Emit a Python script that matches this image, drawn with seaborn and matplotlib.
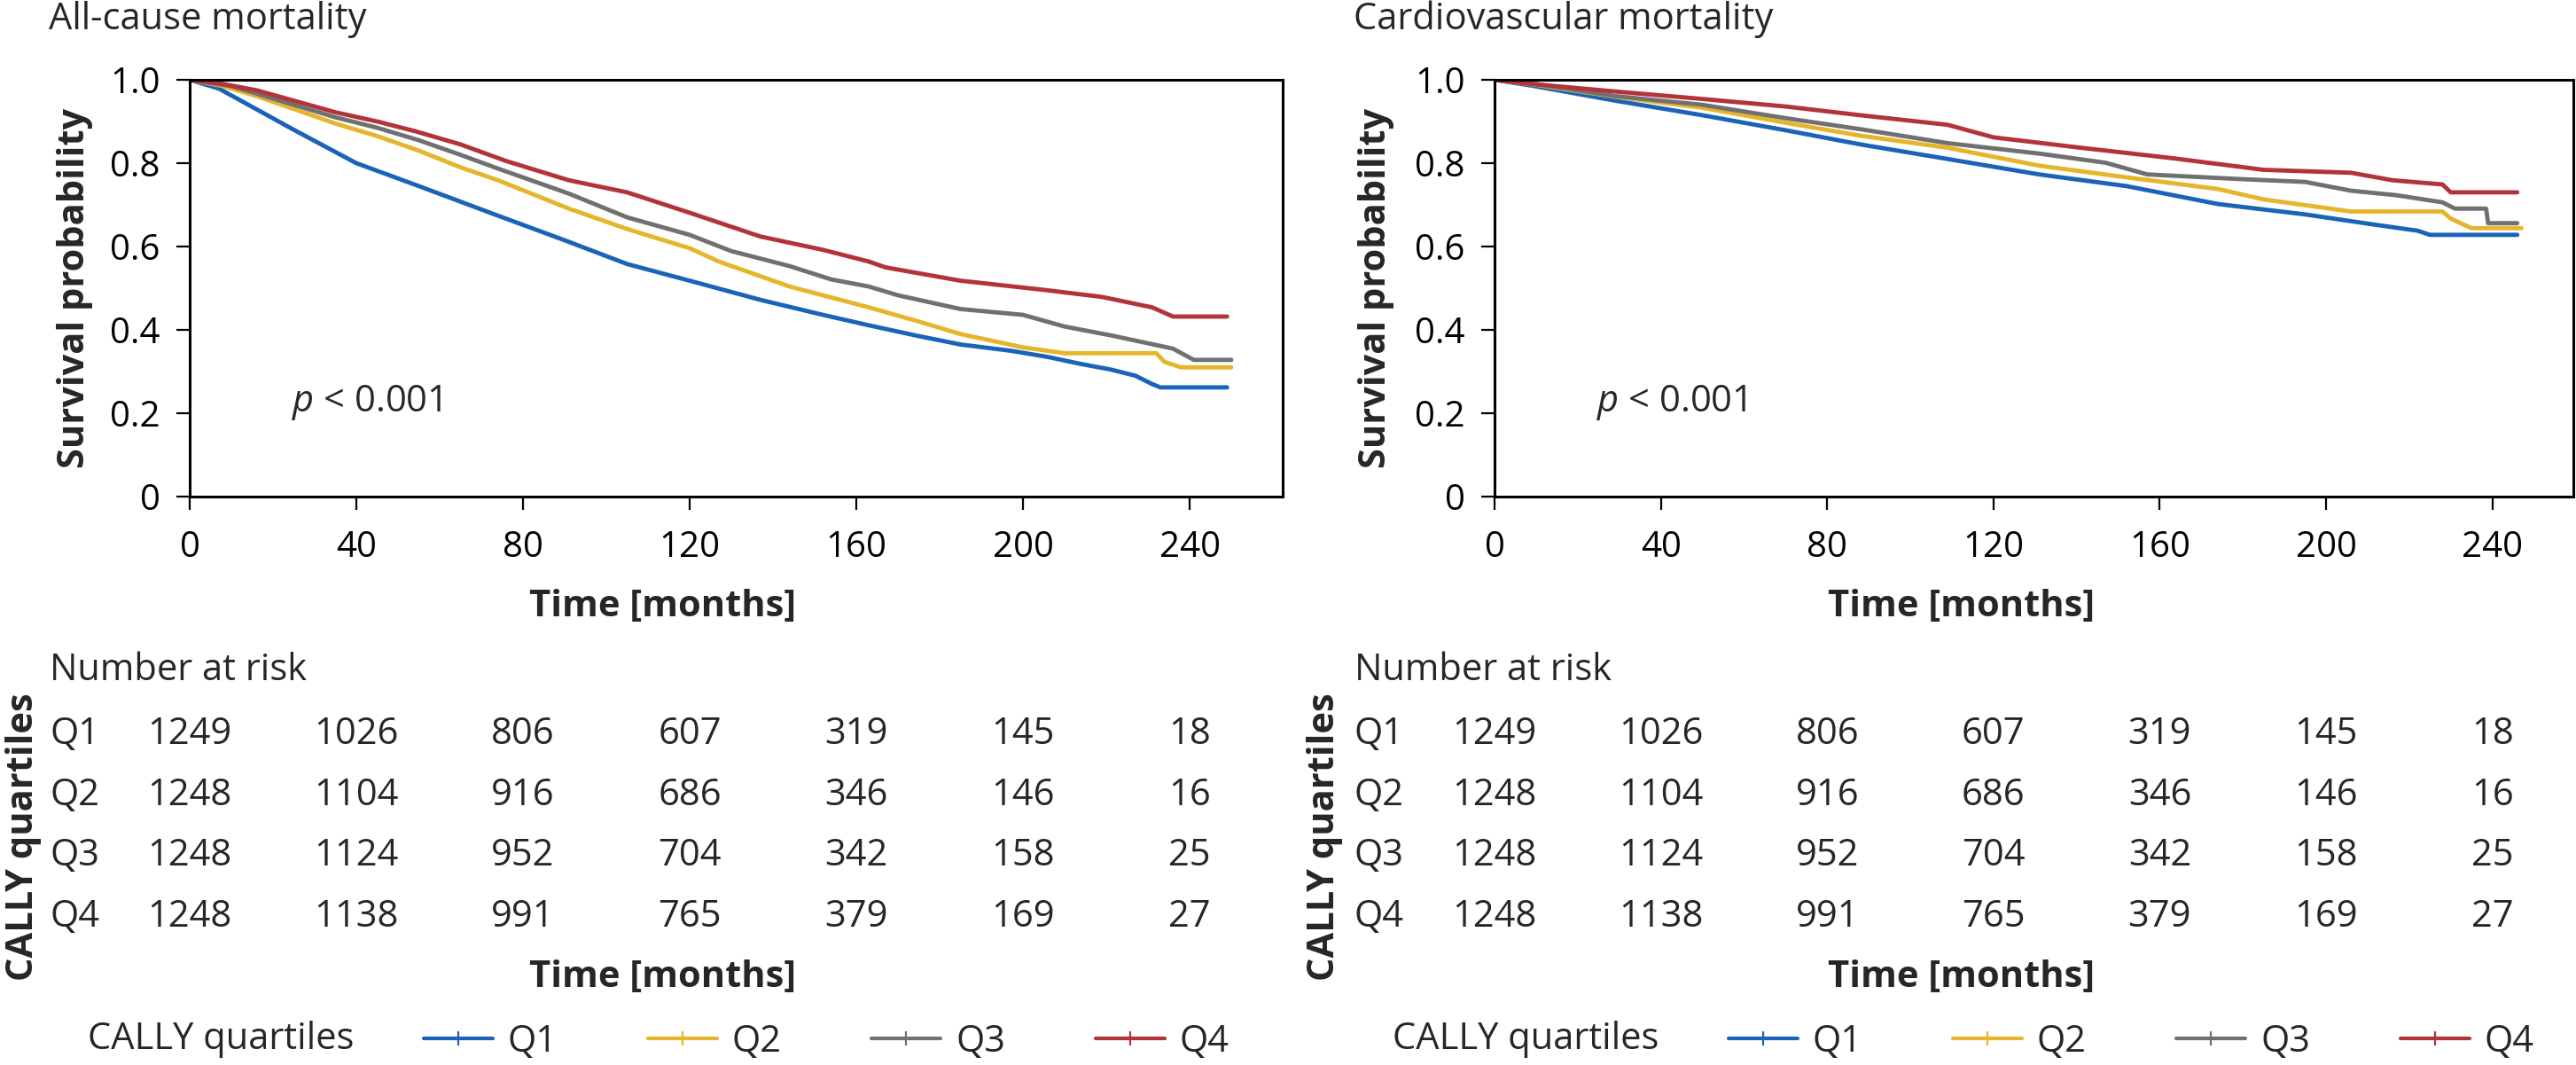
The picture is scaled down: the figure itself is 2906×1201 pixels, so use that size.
import numpy as np
import pandas as pd
import matplotlib
matplotlib.use("Agg")
import matplotlib.pyplot as plt
import seaborn as sns
from matplotlib.lines import Line2D

# ─────────────────────────────────────────────
# DATA
# ─────────────────────────────────────────────

GROUPS = ["Q1", "Q2", "Q3", "Q4"]
COLORS = ["#1B63B8", "#E5B52B", "#707070", "#B3333A"]

# All-cause mortality
ALL_Q1_T = [0, 7, 25, 40, 55, 74, 90, 105, 120, 137, 152, 163, 175, 185, 197, 206, 214, 221, 227, 231, 233, 249]
ALL_Q1_S = [1.0, 0.979, 0.88, 0.80, 0.745, 0.674, 0.615, 0.558, 0.518, 0.472, 0.436, 0.411, 0.385, 0.365, 0.35, 0.335, 0.318, 0.305, 0.29, 0.27, 0.262, 0.262]
ALL_Q2_T = [0, 8, 16, 25, 35, 45, 55, 65, 74, 91, 105, 120, 127, 144, 163, 175, 185, 200, 210, 232, 234, 238, 250]
ALL_Q2_S = [1.0, 0.985, 0.961, 0.93, 0.895, 0.865, 0.83, 0.79, 0.759, 0.691, 0.642, 0.596, 0.564, 0.504, 0.454, 0.42, 0.39, 0.358, 0.344, 0.344, 0.323, 0.31, 0.31]
ALL_Q3_T = [0, 10, 20, 35, 45, 55, 65, 74, 91, 105, 120, 130, 144, 154, 163, 170, 185, 200, 210, 221, 236, 241, 250]
ALL_Q3_S = [1.0, 0.985, 0.955, 0.91, 0.885, 0.855, 0.82, 0.787, 0.727, 0.67, 0.628, 0.589, 0.553, 0.521, 0.504, 0.483, 0.45, 0.436, 0.408, 0.387, 0.355, 0.328, 0.328]
ALL_Q4_T = [0, 8, 16, 25, 35, 45, 54, 65, 76, 91, 105, 120, 137, 152, 163, 167, 185, 205, 219, 231, 236, 249]
ALL_Q4_S = [1.0, 0.99, 0.975, 0.95, 0.922, 0.90, 0.877, 0.845, 0.805, 0.759, 0.73, 0.681, 0.624, 0.592, 0.564, 0.55, 0.518, 0.496, 0.479, 0.454, 0.432, 0.432]

# Cardiovascular mortality
CV_Q1_T = [0, 9, 29, 50, 70, 88, 109, 131, 152, 174, 195, 212, 222, 225, 246]
CV_Q1_S = [1.0, 0.986, 0.95, 0.915, 0.879, 0.845, 0.81, 0.773, 0.745, 0.702, 0.677, 0.652, 0.638, 0.628, 0.628]
CV_Q2_T = [0, 10, 30, 50, 70, 88, 109, 131, 152, 174, 185, 201, 206, 228, 230, 235, 247]
CV_Q2_S = [1.0, 0.988, 0.958, 0.933, 0.897, 0.866, 0.837, 0.794, 0.766, 0.738, 0.713, 0.691, 0.684, 0.684, 0.667, 0.644, 0.644]
CV_Q3_T = [0, 10, 29, 50, 70, 89, 109, 131, 147, 157, 179, 195, 206, 217, 228, 231, 238.5, 239, 246]
CV_Q3_S = [1.0, 0.99, 0.961, 0.94, 0.908, 0.88, 0.848, 0.823, 0.801, 0.773, 0.762, 0.755, 0.734, 0.723, 0.706, 0.691, 0.691, 0.656, 0.656]
CV_Q4_T = [0, 9, 29, 50, 70, 88, 109, 120, 141, 163, 185, 206, 216, 228, 230, 246]
CV_Q4_S = [1.0, 0.99, 0.972, 0.954, 0.936, 0.915, 0.892, 0.862, 0.837, 0.812, 0.784, 0.777, 0.759, 0.749, 0.73, 0.73]

# Number at risk (same table under both panels)
RISK_TIMES = [0, 40, 80, 120, 160, 200, 240]
RISK_Q1 = [1249, 1026, 806, 607, 319, 145, 18]
RISK_Q2 = [1248, 1104, 916, 686, 346, 146, 16]
RISK_Q3 = [1248, 1124, 952, 704, 342, 158, 25]
RISK_Q4 = [1248, 1138, 991, 765, 379, 169, 27]

X_TICKS = [0, 40, 80, 120, 160, 200, 240]
Y_TICKS = [0, 0.2, 0.4, 0.6, 0.8, 1.0]
Y_TICKLABELS = ["0", "0.2", "0.4", "0.6", "0.8", "1.0"]


def long_frame(times, survs):
    rows = []
    for g, t, s in zip(GROUPS, times, survs):
        rows.append(pd.DataFrame({"time": t, "surv": s, "group": g}))
    return pd.concat(rows, ignore_index=True)


df_all = long_frame([ALL_Q1_T, ALL_Q2_T, ALL_Q3_T, ALL_Q4_T],
                    [ALL_Q1_S, ALL_Q2_S, ALL_Q3_S, ALL_Q4_S])
df_cv = long_frame([CV_Q1_T, CV_Q2_T, CV_Q3_T, CV_Q4_T],
                   [CV_Q1_S, CV_Q2_S, CV_Q3_S, CV_Q4_S])
risk_rows = [RISK_Q1, RISK_Q2, RISK_Q3, RISK_Q4]

# ─────────────────────────────────────────────
# STYLE
# ─────────────────────────────────────────────

sns.set_theme(style="ticks")
plt.rcParams["font.family"] = ["Open Sans", "DejaVu Sans"]
plt.rcParams["mathtext.fontset"] = "custom"
plt.rcParams["mathtext.it"] = "Open Sans:italic"
plt.rcParams["mathtext.rm"] = "Open Sans"

FS = 30
W, H = 2906, 1201
fig = plt.figure(figsize=(W / 100, H / 100), dpi=100)
fig.patch.set_facecolor("white")


def add_px_axes(x0, y_top, x1, y_bot):
    return fig.add_axes([x0 / W, 1 - y_bot / H, (x1 - x0) / W, (y_bot - y_top) / H])


def draw_panel(df, x0, x1, scale, title, row_labels_dx):
    xmax = (x1 - x0) / scale
    ax = add_px_axes(x0, 90, x1, 560)
    sns.lineplot(data=df, x="time", y="surv", hue="group", hue_order=GROUPS,
                 palette=COLORS, estimator=None, sort=False, lw=3.5,
                 legend=False, ax=ax)
    ax.set_xlim(0, xmax)
    ax.set_ylim(0, 1.0)
    ax.set_xticks(X_TICKS)
    ax.set_yticks(Y_TICKS)
    ax.set_yticklabels(Y_TICKLABELS)
    ax.tick_params(direction="out", length=11, width=1.6, colors="black",
                   labelsize=29, pad=13)
    ax.tick_params(axis="x", pad=16)
    for sp in ax.spines.values():
        sp.set_visible(True)
        sp.set_linewidth(2.2)
        sp.set_color("black")
    ax.set_xlabel("Time [months]", fontsize=FS, fontweight="bold")
    ax.xaxis.set_label_coords(0.433, -0.222)
    ax.set_ylabel("Survival probability", fontsize=FS, fontweight="bold")
    ax.yaxis.set_label_coords((row_labels_dx + 58) / (x1 - x0), 0.5)
    ax.text(24.5, 0.2255, r"$p$ < 0.001", fontsize=FS, va="center", ha="left")
    fig.text((x0 - 159) / W, 1 - 22 / H, title, fontsize=FS, va="center", ha="left")

    # number at risk table
    axt = add_px_axes(x0, 793.5, x1, 1068.5)
    axt.set_xlim(0, xmax)
    axt.set_ylim(3.5, -0.5)
    axt.set_xticks([])
    axt.set_yticks([])
    for sp in axt.spines.values():
        sp.set_visible(False)
    axt.patch.set_alpha(0)
    lab_x = -158 / scale
    axt.text(lab_x, -1.04, "Number at risk", fontsize=FS, va="center", ha="left",
             clip_on=False)
    for i, (g, vals) in enumerate(zip(GROUPS, risk_rows)):
        axt.text(lab_x, i, g, fontsize=FS, va="center", ha="left", clip_on=False)
        for t, v in zip(RISK_TIMES, vals):
            axt.text(t, i, str(v), fontsize=FS, va="center", ha="center")
    axt.set_xlabel("Time [months]", fontsize=FS, fontweight="bold")
    axt.xaxis.set_label_coords(0.433, -0.049)
    axt.set_ylabel("CALLY quartiles", fontsize=FS, fontweight="bold")
    axt.yaxis.set_label_coords(row_labels_dx / (x1 - x0), 0.453)

    # legend row
    fig.text((x0 - 115) / W, 1 - 1172 / H, "CALLY quartiles", fontsize=FS,
             va="center", ha="left")
    handles = [Line2D([], [], color=c, lw=3, marker="|", markersize=11,
                      markeredgewidth=1.6) for c in COLORS]
    fig.legend(handles, GROUPS, loc="center left",
               bbox_to_anchor=((x0 + 264) / W, 1 - 1175 / H),
               ncol=4, frameon=False, fontsize=FS, borderpad=0, borderaxespad=0,
               handlelength=1.87, handletextpad=0.4, columnspacing=2.45,
               numpoints=1)
    return ax


draw_panel(df_all, 214, 1447, 4.70, "All-cause mortality", -167)
draw_panel(df_cv, 1686, 2903, 4.69, "Cardiovascular mortality", -171)

fig.savefig("out.png", dpi=100, facecolor="white")
